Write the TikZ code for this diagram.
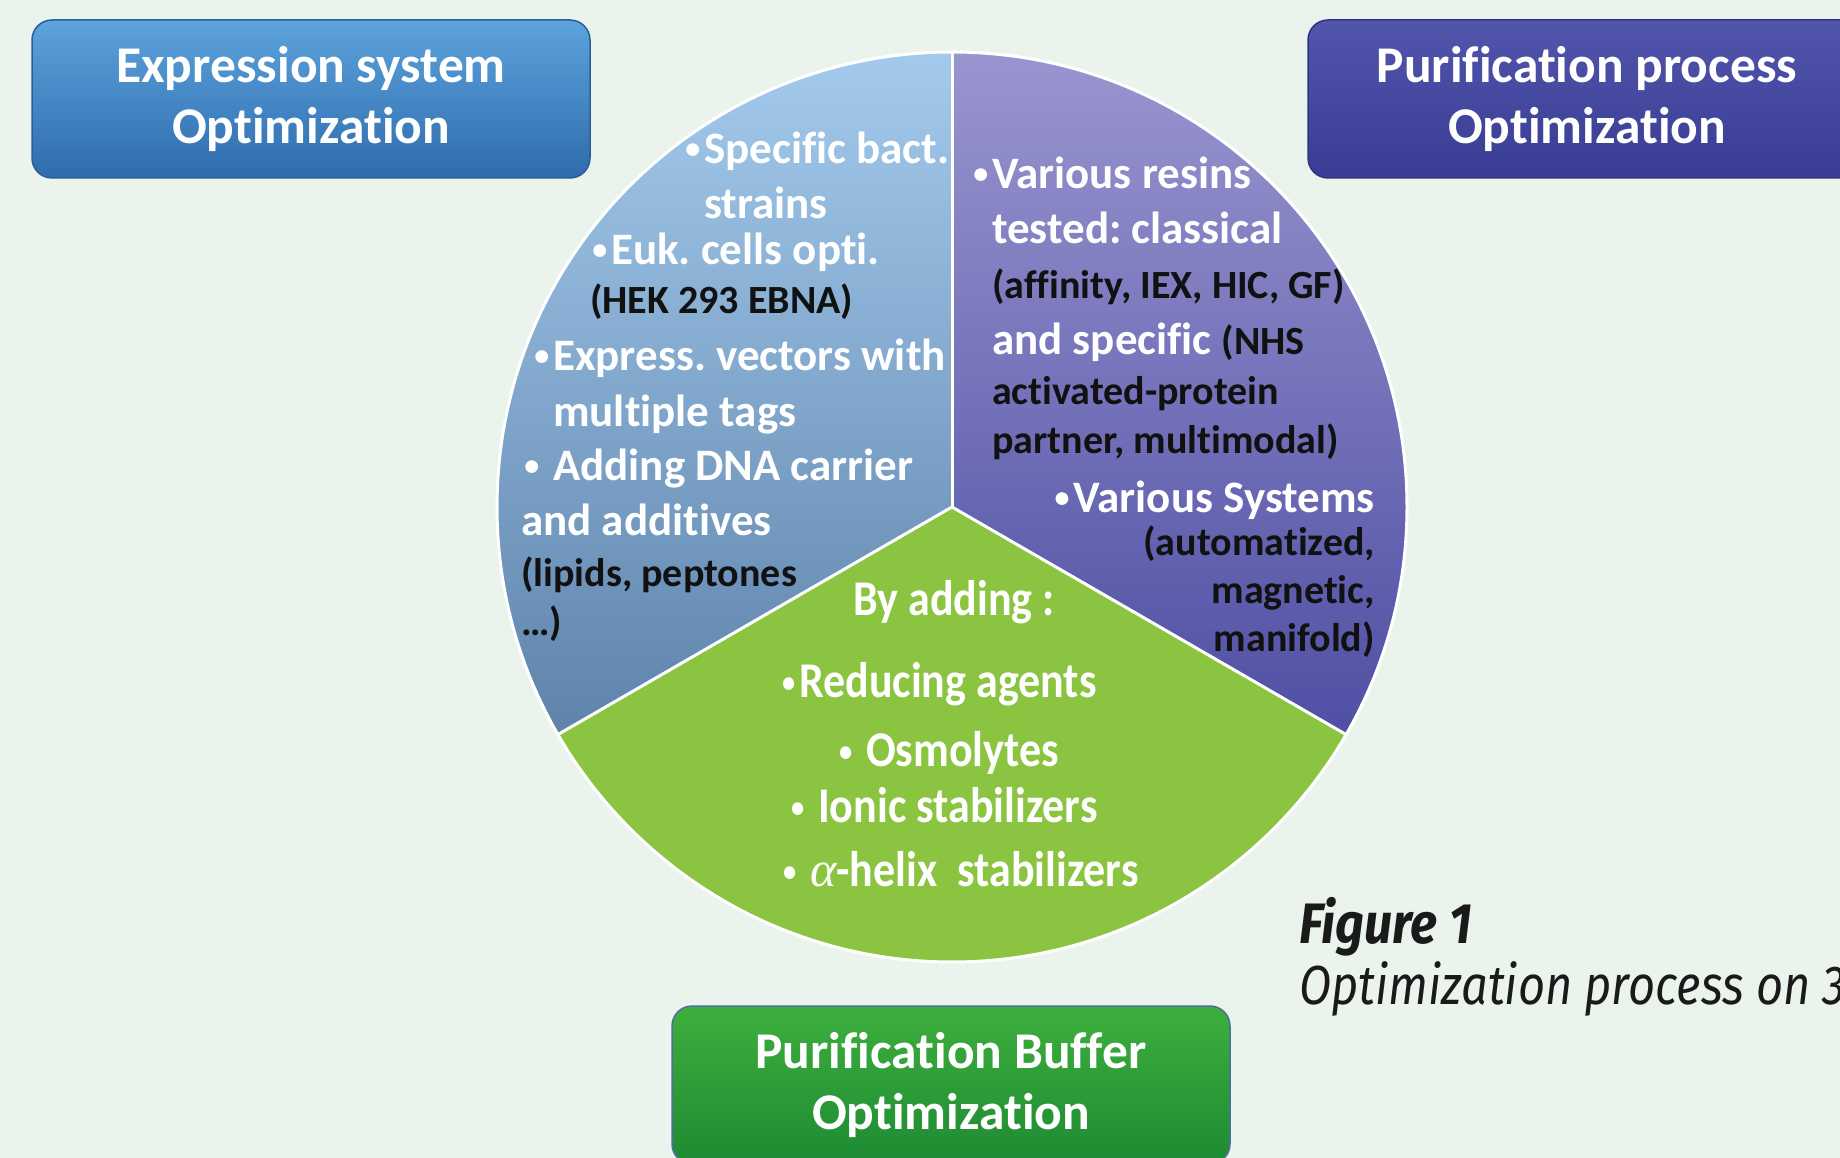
\documentclass[tikz,border=0pt]{standalone}
\usepackage{fontspec}
\setmainfont{Carlito}[Ligatures=NoCommon]
\newfontfamily\grnfont{Carlito}[Ligatures=NoCommon, FakeStretch=0.88]
\newfontfamily\grkfont{Liberation Serif}
\newfontfamily\capfont[FakeStretch=0.88]{Fira Sans}
\newfontfamily\capfontb[FakeStretch=0.855]{Fira Sans}
\definecolor{bg}{HTML}{EAF4EC}
\definecolor{blueT}{HTML}{A3CAEC}
\definecolor{blueB}{HTML}{5F84AC}
\definecolor{purT}{HTML}{9995CF}
\definecolor{purB}{HTML}{4F4FA4}
\definecolor{grn}{HTML}{8BC441}
\definecolor{b1T}{HTML}{5DA3DC}
\definecolor{b1B}{HTML}{2E6CAD}
\definecolor{b1D}{HTML}{2A5E96}
\definecolor{b2T}{HTML}{5155AB}
\definecolor{b2B}{HTML}{383C93}
\definecolor{b2D}{HTML}{30347F}
\definecolor{b3T}{HTML}{3EAF3D}
\definecolor{b3B}{HTML}{1D8A33}
\definecolor{b3D}{HTML}{4E6E9E}
\definecolor{capc}{HTML}{1A1A1A}
\definecolor{txtk}{HTML}{111111}
\newcommand\mybul{\raisebox{5pt}{\fontsize{30}{30}\selectfont\textbullet}}
\frenchspacing
\begin{document}
\begin{tikzpicture}[x=1pt,y=-1pt,
  wt/.style={text=white, font=\frenchspacing\bfseries\fontsize{45}{54}\selectfont, inner sep=0pt, text height=31pt, text depth=10pt},
  gt/.style={text=white, font=\frenchspacing\grnfont\bfseries\fontsize{50}{60}\selectfont, inner sep=0pt, text height=34pt, text depth=11pt},
  bk/.style={text=txtk, font=\frenchspacing\bfseries\fontsize{40}{48}\selectfont, inner sep=0pt, text height=28pt, text depth=9pt},
  optbox/.style={rounded corners=20pt, minimum width=558pt, minimum height=158pt, text=white,
    font=\bfseries\fontsize{51.5}{61}\selectfont, align=center, line width=1.5pt},
  capt/.style={anchor=west, inner sep=0pt, text=capc},
  sep/.style={white, line width=3pt}
]
\useasboundingbox (0,0) rectangle (1840,1158);
\clip (0,0) rectangle (1840,1158);
\fill[bg] (0,0) rectangle (1840,1158);

\coordinate (c) at (952,507);
% sectors
\shade[top color=blueT, bottom color=blueB] (c) -- ++(270:455) arc[start angle=270, end angle=150, radius=455] -- cycle;
\shade[top color=purT, bottom color=purB] (c) -- ++(270:455) arc[start angle=270, end angle=390, radius=455] -- cycle;
\fill[grn] (c) -- ++(30:455) arc[start angle=30, end angle=150, radius=455] -- cycle;

\begin{scope}[yshift=-4pt]
% left sector text
\node[wt, anchor=west] (e1) at (704,149) {\llap{\mybul\hspace{4pt}}Specific bact.};
\node[wt, anchor=west] (e2) at (704,204) {strains};
\node[wt, anchor=west] (e3) at (611,250) {\llap{\mybul\hspace{4pt}}Euk. cells opti.};
\node[bk, anchor=west] (e4) at (590,300) {(HEK 293 EBNA)};
\node[wt, anchor=west] (e5) at (553,356) {\llap{\mybul\hspace{4pt}}Express. vectors with};
\node[wt, anchor=west] (e6) at (553,412) {multiple tags};
\node[wt, anchor=west] (e7) at (553,466) {\llap{\mybul\hspace{14pt}}Adding DNA carrier};
\node[wt, anchor=west] (e8) at (521,521) {and additives};
\node[bk, anchor=west] (e9) at (521,573) {(lipids, peptones};
\node[bk, anchor=west] (e10) at (521,622) {\dots)};

% right sector text
\node[wt, anchor=west] (p1) at (992,174) {\llap{\mybul\hspace{4pt}}Various resins};
\node[wt, anchor=west] (p2) at (992,229) {tested: classical};
\node[bk, anchor=west] (p3) at (992,285) {(affinity, IEX, HIC, GF)};
\node[wt, anchor=west] (p4) at (992,340) {and specific {\color{txtk}\fontsize{40}{48}\selectfont(NHS}};
\node[bk, anchor=west] (p5) at (992,391) {activated-protein};
\node[bk, anchor=west] (p6) at (992,440) {partner, multimodal)};
\node[wt, anchor=east] (p7) at (1375,498) {\mybul\hspace{4pt}Various Systems};
\node[bk, anchor=east] (p8) at (1375,542) {(automatized,};
\node[bk, anchor=east] (p9) at (1375,590) {magnetic,};
\node[bk, anchor=east] (p10) at (1375,638) {manifold)};

% green sector text
\node[gt] (g1) at (954,600) {By adding :};
\node[gt, anchor=west] (g2) at (799,682) {\llap{\mybul\hspace{4pt}}Reducing agents};
\node[gt, anchor=west] (g3) at (866,751) {\llap{\mybul\hspace{14pt}}Osmolytes};
\node[gt, anchor=west] (g4) at (818,807) {\llap{\mybul\hspace{14pt}}Ionic stabilizers};
\node[gt, anchor=west] (g5) at (810,871) {\llap{\mybul\hspace{14pt}}{\grkfont\mdseries\itshape α}-helix\ \ stabilizers};
\end{scope}

% separators and outline
\draw[sep] (c) -- ++(270:455);
\draw[sep] (c) -- ++(30:455);
\draw[sep] (c) -- ++(150:455);
\draw[sep] (c) circle[radius=455];

% boxes
\node[optbox, top color=b1T, bottom color=b1B, draw=b1D] (b1) at (311,99) {Expression system\\Optimization};
\node[optbox, top color=b2T, bottom color=b2B, draw=b2D] (b2) at (1587,99) {Purification process\\Optimization};
\node[optbox, top color=b3T, bottom color=b3B, draw=b3D] (b3) at (951,1085) {Purification Buffer\\Optimization};

% caption
\node[capt, font=\capfont\bfseries\itshape\fontsize{57}{60}\selectfont] (f1) at (1299,927) {Figure 1};
\node[capt, font=\capfontb\itshape\fontsize{55}{60}\selectfont] (f2) at (1299,989) {Optimization process on 3};
\end{tikzpicture}
\end{document}
